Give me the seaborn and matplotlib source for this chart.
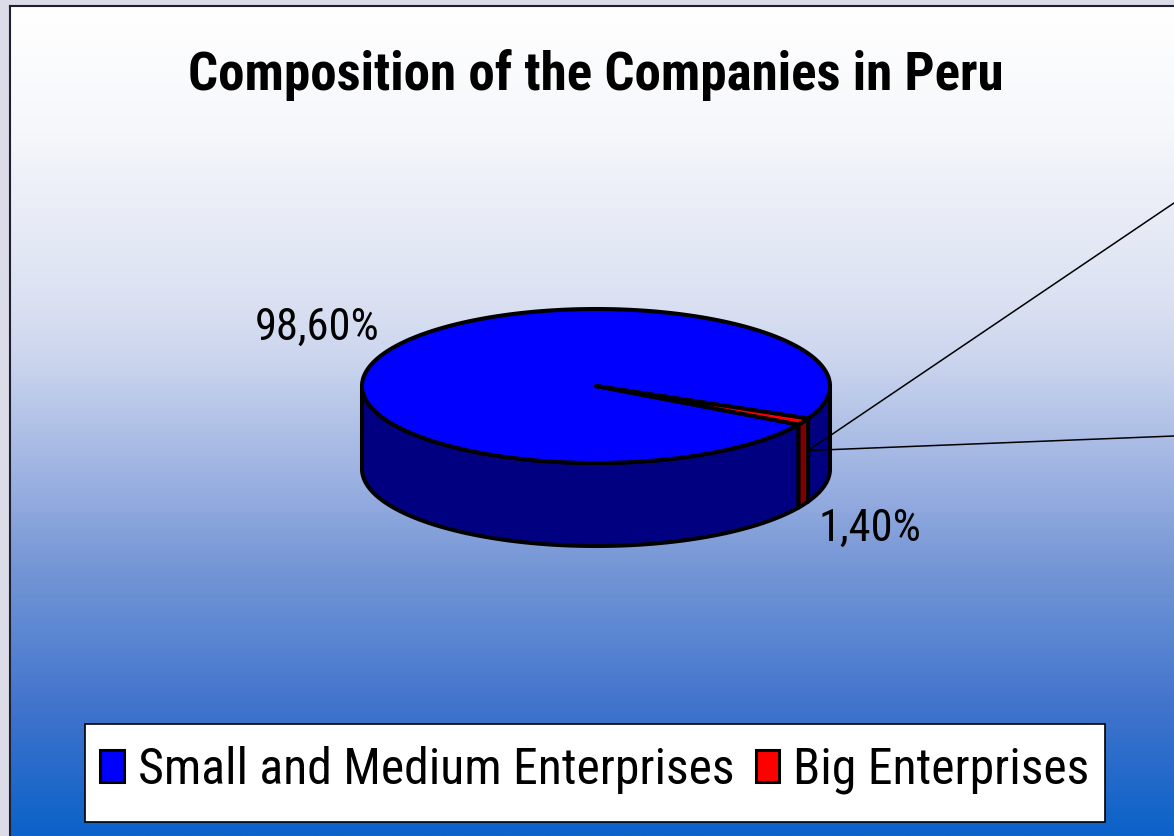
import numpy as np
import matplotlib

matplotlib.use('Agg')
import matplotlib.pyplot as plt
import seaborn as sns
from matplotlib import font_manager as fm
from matplotlib.colors import LinearSegmentedColormap
from matplotlib.patches import Polygon, Patch, Rectangle

# data
categories = ["Small and Medium Enterprises", "Big Enterprises"]
shares = [98.60, 1.40]
pct_labels = ["98,60%", "1,40%"]
top_colors = ["#0000ff", "#ff0000"]
side_colors = ["#000080", "#800000"]
title = "Composition of the Companies in Peru"

sns.set_theme(style="white")
fonts = {}
for f in fm.fontManager.ttflist:
    fonts.setdefault(f.name, set()).add(f.weight if isinstance(f.weight, int) else 400)
cands = ["Liberation Sans Narrow", "Arial Narrow", "Roboto Condensed", "PT Sans Narrow",
         "Archivo Narrow", "Asap Condensed", "Sofia Sans Condensed", "Liberation Sans"]
narrow = next(c for c in cands if c in fonts and min(fonts[c]) <= 400)
narrow_bold = next(c for c in cands if c in fonts and max(fonts[c]) >= 700)
plt.rcParams['font.family'] = [narrow, 'DejaVu Sans']
plt.rcParams['text.color'] = 'black'

W, H = 1174, 836
fig = plt.figure(figsize=(W / 100, H / 100), dpi=100, facecolor="#dcdce8")
ax = fig.add_axes([10 / W, 0, (W - 10) / W, (H - 6) / H])
ax.set_xlim(10, W)
ax.set_ylim(H, 6)
ax.set_xticks([])
ax.set_yticks([])
for s in ["right", "bottom"]:
    ax.spines[s].set_visible(False)
for s in ["left", "top"]:
    ax.spines[s].set_color("#1c2030")
    ax.spines[s].set_linewidth(1.5)

# background gradient (pixel rows)
stops = [(6, "#ffffff"), (130, "#f6f7fb"), (300, "#dbe1f2"), (360, "#cbd5ee"),
         (500, "#93abdf"), (560, "#7898d6"), (650, "#5683d1"), (700, "#4575cd"),
         (836, "#0b62c8")]
cmap = LinearSegmentedColormap.from_list(
    "bg", [((y - 6) / (836 - 6), c) for y, c in stops])
grad = np.linspace(0, 1, 400).reshape(-1, 1)
ax.imshow(grad, cmap=cmap, aspect="auto", extent=(10, W, H, 6), zorder=0)

# 3D pie geometry
cx, cy, a, b, depth = 596, 386, 234, 77, 83
startangle = -25


def pt(t, dy=0):
    r = np.deg2rad(t)
    return cx + a * np.cos(r), cy - b * np.sin(r) + dy


def arc(t0, t1, dy=0):
    ts = np.linspace(t0, t1, max(int(abs(t1 - t0)) * 2, 4))
    r = np.deg2rad(ts)
    return np.column_stack([cx + a * np.cos(r), cy - b * np.sin(r) + dy])


edge = dict(edgecolor="black", linewidth=2.9, joinstyle="round")
bounds = []
t = startangle
for v in shares:
    span = v / sum(shares) * 360
    bounds.append((t, t + span))
    t += span

# side walls (front half only)
for (t0, t1), col in zip(bounds, side_colors):
    for k in range(-1, 2):
        f0, f1 = 180 + 360 * k, 360 + 360 * k
        u0, u1 = max(t0, f0), min(t1, f1)
        if u1 > u0:
            poly = np.vstack([arc(u0, u1), arc(u1, u0, depth)])
            ax.add_patch(Polygon(poly, closed=True, facecolor=col, zorder=2, **edge))

# top face
for (t0, t1), col in zip(bounds, top_colors):
    poly = np.vstack([[cx, cy], arc(t0, t1)])
    ax.add_patch(Polygon(poly, closed=True, facecolor=col, zorder=3, **edge))

# leader lines from the small slice
x0, y0 = pt(bounds[1][1], 32)
ax.plot([x0, W], [y0, 203], color="black", lw=1.1, zorder=4)
ax.plot([x0, W], [y0, 436], color="black", lw=1.1, zorder=4)

# percentage labels
ax.text(317, 340, pct_labels[0], fontsize=32, ha="center", va="baseline", zorder=5)
ax.text(870, 541, pct_labels[1], fontsize=32, ha="center", va="baseline", zorder=5)

ax.text(596, 90, title, fontsize=38.2, fontweight="bold", family=[narrow_bold, 'DejaVu Sans'],
        ha="center", va="baseline", zorder=5)

# legend
ax.add_patch(Rectangle((85, 724), 1020, 98, facecolor="white", edgecolor="black",
                       linewidth=1.2, zorder=6))
handles = [Patch(facecolor=c, edgecolor="black", linewidth=2.2) for c in top_colors]
leg = ax.legend(handles, categories, loc="center", bbox_to_anchor=(595 / W, 1 - 770 / H),
                bbox_transform=fig.transFigure, ncol=2, fontsize=35.8, frameon=False,
                handlelength=0.48, handleheight=0.62, handletextpad=0.28,
                columnspacing=0.42, borderpad=0.0, borderaxespad=0)
leg.set_zorder(7)

fig.savefig("out.png", dpi=100, facecolor=fig.get_facecolor())
